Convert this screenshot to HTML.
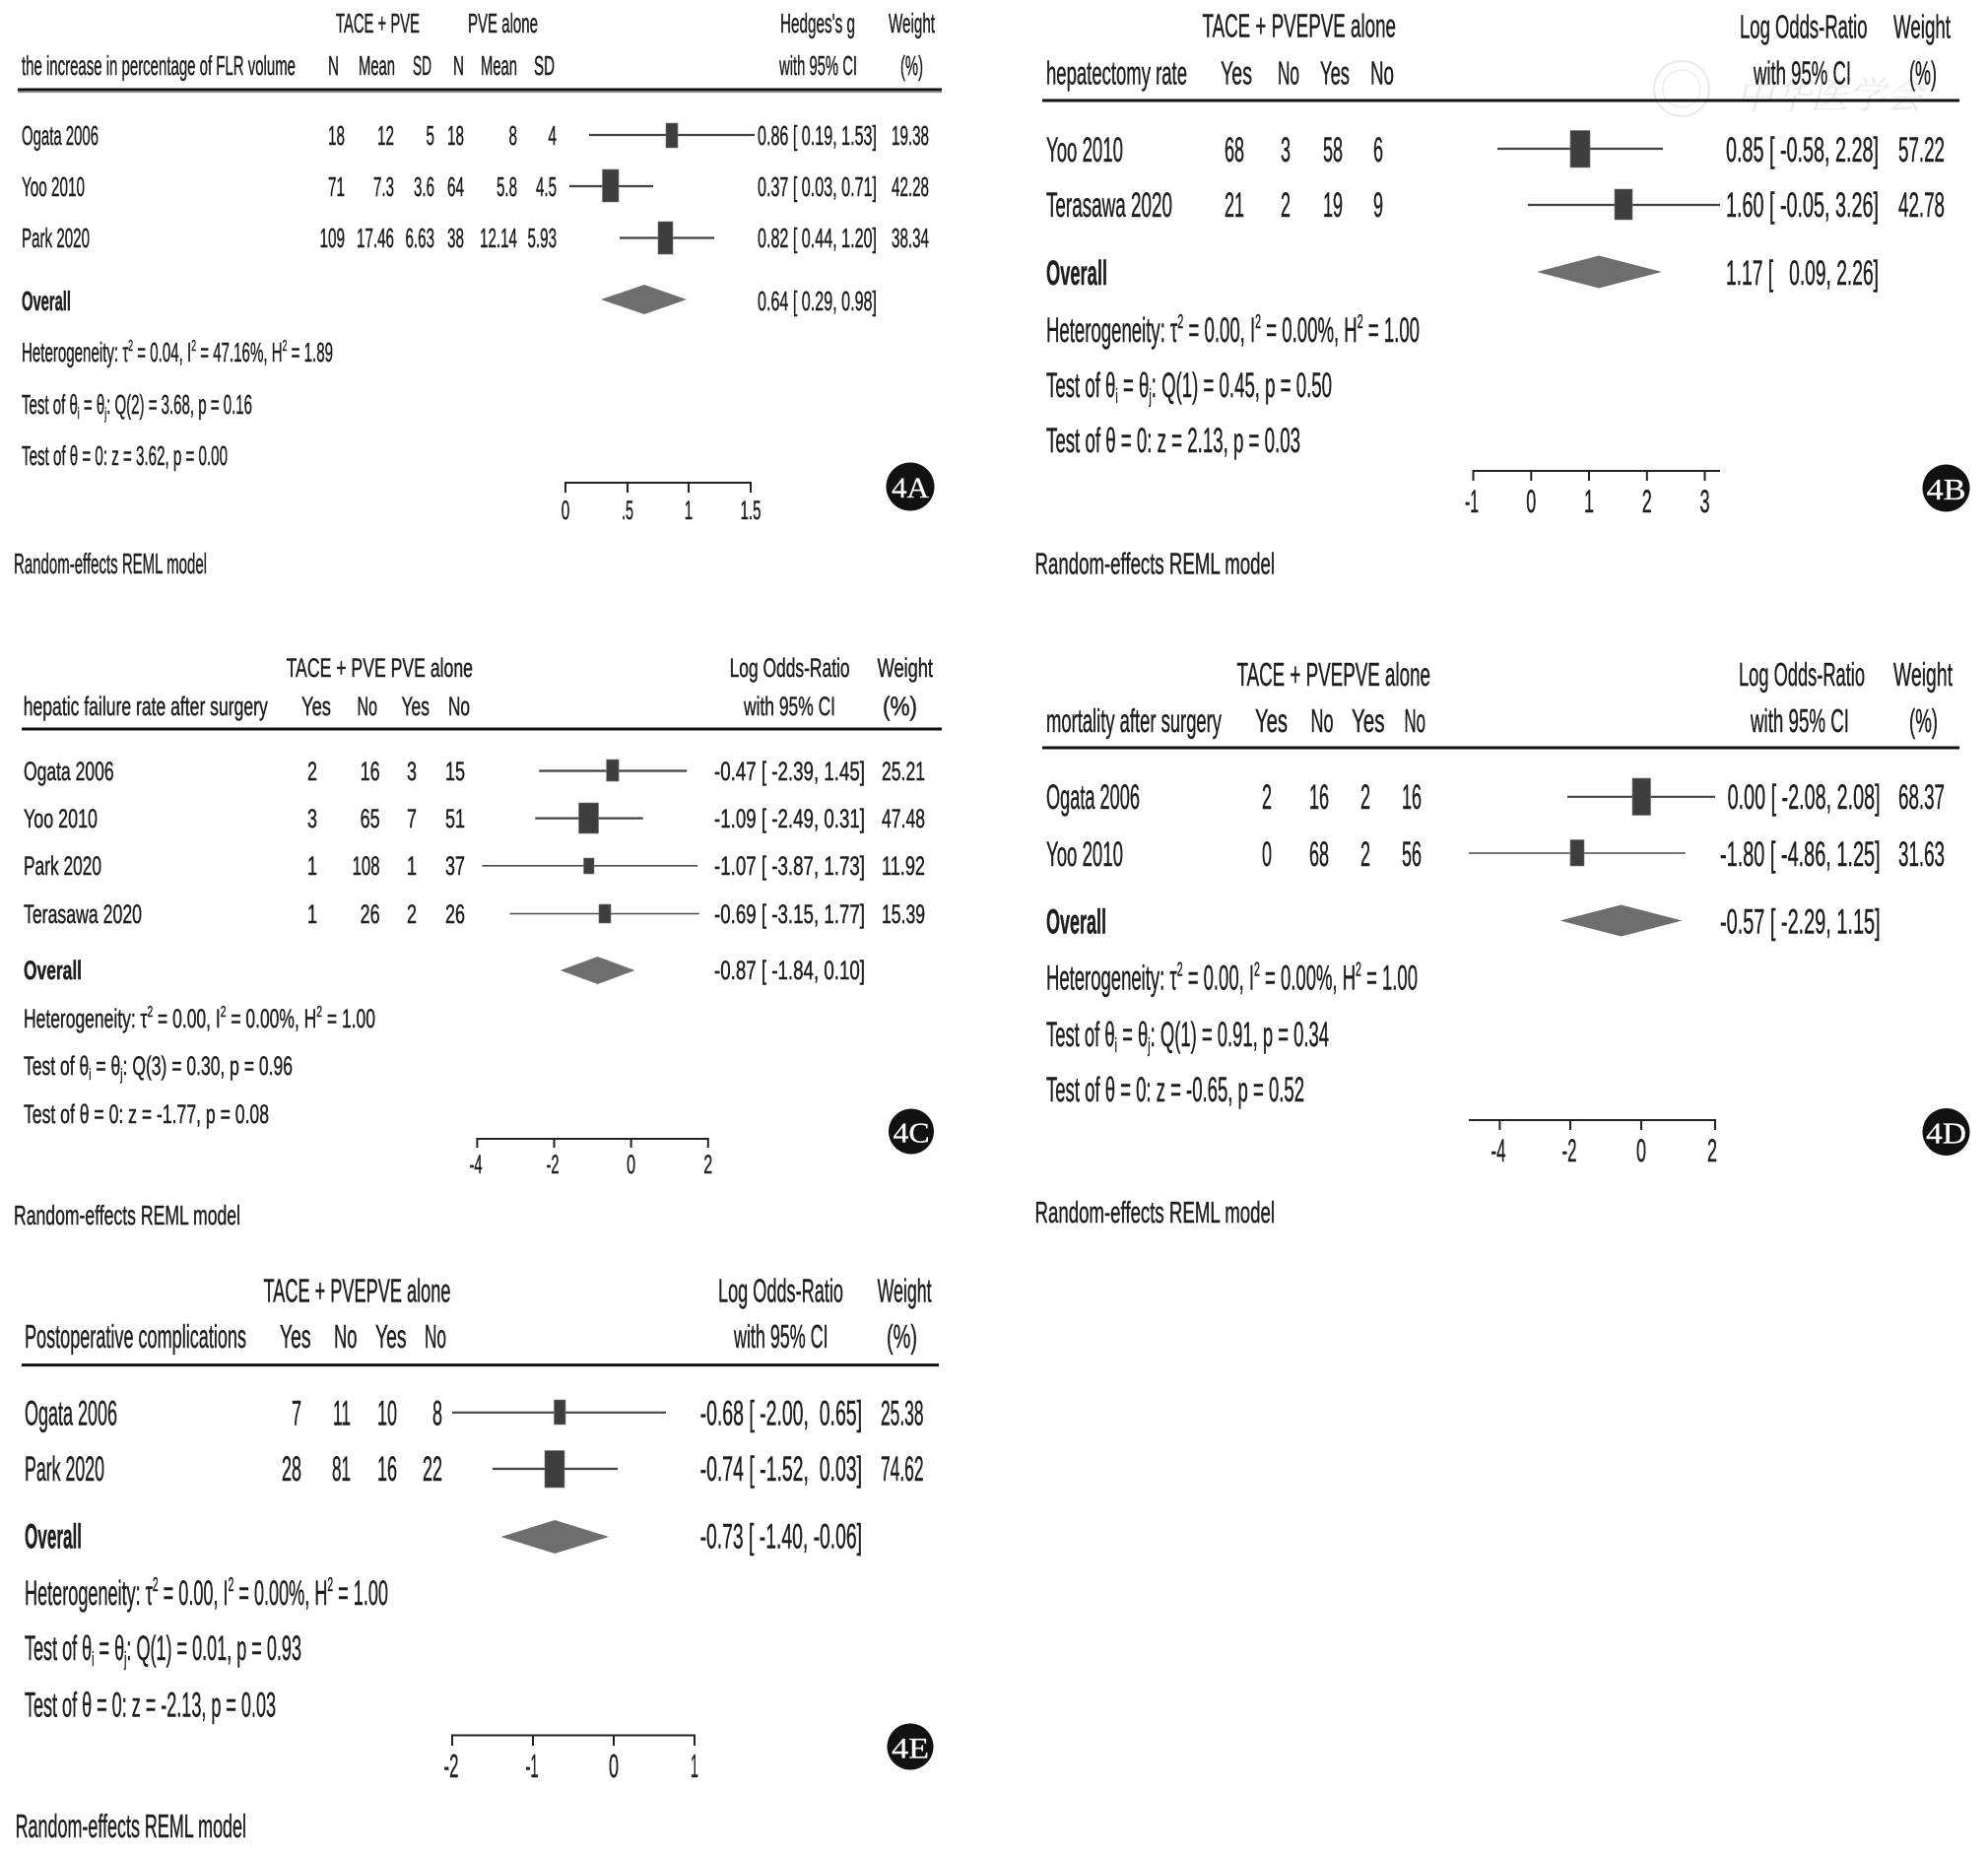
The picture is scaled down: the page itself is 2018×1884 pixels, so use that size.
<!DOCTYPE html>
<html><head><meta charset="utf-8"><style>
html,body{margin:0;padding:0;background:#fff;}
svg{display:block;}
text{font-family:"Liberation Sans","Noto Sans CJK SC",sans-serif;fill:#1e1e1e;stroke:#1e1e1e;stroke-width:0.5;white-space:pre;}
.b{font-weight:bold;}
.ci{stroke:#424242;stroke-width:2.2;}
.cil{stroke:#4a4a4a;stroke-width:1.6;}
.bx{fill:#3e3e3e;stroke:#777;stroke-width:0.6;}
.dm{fill:#6e6e6e;}
.ax{stroke:#222;stroke-width:2;fill:none;}
.hl{stroke:#111;stroke-width:3;}
.lab{font-family:"Liberation Serif",serif;fill:#fff;stroke:#fff;stroke-width:0.3;}
.wm{fill:#dedede;stroke:none;font-family:"Noto Serif CJK SC","Noto Sans CJK SC",serif;font-style:italic;}
</style></head><body>
<svg width="2018" height="1884" viewBox="0 0 2018 1884" xmlns="http://www.w3.org/2000/svg">
<rect width="2018" height="1884" fill="#fff"/>

<!-- ================= PANEL A ================= -->
<g font-size="28">
<text x="341" y="33" textLength="85" lengthAdjust="spacingAndGlyphs">TACE + PVE</text>
<text x="475" y="33" textLength="71" lengthAdjust="spacingAndGlyphs">PVE alone</text>
<text x="792" y="33" textLength="76" lengthAdjust="spacingAndGlyphs">Hedges's g</text>
<text x="902" y="33" textLength="47" lengthAdjust="spacingAndGlyphs">Weight</text>
<text x="22" y="76" textLength="278" lengthAdjust="spacingAndGlyphs">the increase in percentage of FLR volume</text>
<text x="333" y="76" textLength="11" lengthAdjust="spacingAndGlyphs">N</text>
<text x="364" y="76" textLength="37" lengthAdjust="spacingAndGlyphs">Mean</text>
<text x="419" y="76" textLength="19" lengthAdjust="spacingAndGlyphs">SD</text>
<text x="460" y="76" textLength="11" lengthAdjust="spacingAndGlyphs">N</text>
<text x="488" y="76" textLength="37" lengthAdjust="spacingAndGlyphs">Mean</text>
<text x="542" y="76" textLength="21" lengthAdjust="spacingAndGlyphs">SD</text>
<text x="791" y="76" textLength="79" lengthAdjust="spacingAndGlyphs">with 95% CI</text>
<text x="914" y="76" textLength="23" lengthAdjust="spacingAndGlyphs">(%)</text>
</g>
<line class="hl" x1="18" y1="91" x2="956" y2="91"/>
<line x1="18" y1="93.5" x2="956" y2="93.5" stroke="#888" stroke-width="1.2"/>
<g font-size="28">
<text x="22" y="147" textLength="78" lengthAdjust="spacingAndGlyphs">Ogata 2006</text>
<text x="22" y="199" textLength="64" lengthAdjust="spacingAndGlyphs">Yoo 2010</text>
<text x="22" y="251" textLength="69" lengthAdjust="spacingAndGlyphs">Park 2020</text>
<text class="b" x="22" y="315" textLength="50" lengthAdjust="spacingAndGlyphs">Overall</text>
<text x="22" y="367" textLength="316" lengthAdjust="spacingAndGlyphs">Heterogeneity: τ<tspan font-size="16" dy="-11">2</tspan><tspan dy="11"> = 0.04, I</tspan><tspan font-size="16" dy="-11">2</tspan><tspan dy="11"> = 47.16%, H</tspan><tspan font-size="16" dy="-11">2</tspan><tspan dy="11"> = 1.89</tspan></text>
<text x="22" y="420" textLength="234" lengthAdjust="spacingAndGlyphs">Test of θ<tspan font-size="16" dy="5">i</tspan><tspan dy="-5"> = θ</tspan><tspan font-size="16" dy="5">j</tspan><tspan dy="-5">: Q(2) = 3.68, p = 0.16</tspan></text>
<text x="22" y="472" textLength="209" lengthAdjust="spacingAndGlyphs">Test of θ = 0: z = 3.62, p = 0.00</text>
<g text-anchor="end">
<text x="350" y="147" textLength="17" lengthAdjust="spacingAndGlyphs">18</text>
<text x="400" y="147" textLength="17" lengthAdjust="spacingAndGlyphs">12</text>
<text x="441" y="147" textLength="8.5" lengthAdjust="spacingAndGlyphs">5</text>
<text x="471" y="147" textLength="17" lengthAdjust="spacingAndGlyphs">18</text>
<text x="525" y="147" textLength="8.5" lengthAdjust="spacingAndGlyphs">8</text>
<text x="565" y="147" textLength="8.5" lengthAdjust="spacingAndGlyphs">4</text>
<text x="350" y="199" textLength="17" lengthAdjust="spacingAndGlyphs">71</text>
<text x="400" y="199" textLength="21" lengthAdjust="spacingAndGlyphs">7.3</text>
<text x="441" y="199" textLength="21" lengthAdjust="spacingAndGlyphs">3.6</text>
<text x="471" y="199" textLength="17" lengthAdjust="spacingAndGlyphs">64</text>
<text x="525" y="199" textLength="21" lengthAdjust="spacingAndGlyphs">5.8</text>
<text x="565" y="199" textLength="21" lengthAdjust="spacingAndGlyphs">4.5</text>
<text x="350" y="251" textLength="25.5" lengthAdjust="spacingAndGlyphs">109</text>
<text x="400" y="251" textLength="38" lengthAdjust="spacingAndGlyphs">17.46</text>
<text x="441" y="251" textLength="29.5" lengthAdjust="spacingAndGlyphs">6.63</text>
<text x="471" y="251" textLength="17" lengthAdjust="spacingAndGlyphs">38</text>
<text x="525" y="251" textLength="38" lengthAdjust="spacingAndGlyphs">12.14</text>
<text x="565" y="251" textLength="29.5" lengthAdjust="spacingAndGlyphs">5.93</text>
</g>
<text x="769" y="147" textLength="121" lengthAdjust="spacingAndGlyphs">0.86 [ 0.19, 1.53]</text>
<text x="905" y="147" textLength="38" lengthAdjust="spacingAndGlyphs">19.38</text>
<text x="769" y="199" textLength="121" lengthAdjust="spacingAndGlyphs">0.37 [ 0.03, 0.71]</text>
<text x="905" y="199" textLength="38" lengthAdjust="spacingAndGlyphs">42.28</text>
<text x="769" y="251" textLength="121" lengthAdjust="spacingAndGlyphs">0.82 [ 0.44, 1.20]</text>
<text x="905" y="251" textLength="38" lengthAdjust="spacingAndGlyphs">38.34</text>
<text x="769" y="315" textLength="121" lengthAdjust="spacingAndGlyphs">0.64 [ 0.29, 0.98]</text>
</g>
<line class="ci" x1="598" y1="137" x2="766" y2="137"/>
<rect class="bx" x="676" y="125" width="12" height="25"/>
<line class="ci" x1="578" y1="189" x2="663" y2="189"/>
<rect class="bx" x="611.5" y="172" width="16.5" height="33"/>
<line class="ci" x1="629" y1="241.5" x2="725" y2="241.5"/>
<rect class="bx" x="668" y="225" width="15" height="33"/>
<polygon class="dm" points="610,304 654,289 697,304 654,319"/>
<path class="ax" d="M574,500 V490 H762 V500 M637,490 V500 M699,490 V500"/>
<g font-size="27" text-anchor="middle">
<text x="574" y="527" textLength="8.5" lengthAdjust="spacingAndGlyphs">0</text>
<text x="637" y="527" textLength="12" lengthAdjust="spacingAndGlyphs">.5</text>
<text x="699" y="527" textLength="8.5" lengthAdjust="spacingAndGlyphs">1</text>
<text x="762" y="527" textLength="21" lengthAdjust="spacingAndGlyphs">1.5</text>
</g>
<circle cx="924" cy="494" r="24.5" fill="#111"/>
<text class="lab" x="924" y="505" font-size="30" text-anchor="middle" textLength="38" lengthAdjust="spacingAndGlyphs">4A</text>
<text x="14" y="582" font-size="29" textLength="196" lengthAdjust="spacingAndGlyphs">Random-effects REML model</text>

<!-- ================= PANEL B ================= -->
<g opacity="0.6">
<circle cx="1707" cy="90" r="28" fill="none" stroke="#dcdcdc" stroke-width="2"/>
<circle cx="1707" cy="90" r="19" fill="none" stroke="#e2e2e2" stroke-width="1.5"/>
<text class="wm" x="1762" y="110" font-size="38" textLength="190" lengthAdjust="spacingAndGlyphs">中华医学会</text>
</g>
<g font-size="33">
<text x="1220.5" y="37.5" textLength="196.5" lengthAdjust="spacingAndGlyphs">TACE + PVEPVE alone</text>
<text x="1766" y="38.5" textLength="129.5" lengthAdjust="spacingAndGlyphs">Log Odds-Ratio</text>
<text x="1922" y="38.5" textLength="58" lengthAdjust="spacingAndGlyphs">Weight</text>
<text x="1062" y="85.5" textLength="143" lengthAdjust="spacingAndGlyphs">hepatectomy rate</text>
<text x="1239" y="85.5" textLength="32" lengthAdjust="spacingAndGlyphs">Yes</text>
<text x="1297" y="85.5" textLength="22" lengthAdjust="spacingAndGlyphs">No</text>
<text x="1340" y="85.5" textLength="30" lengthAdjust="spacingAndGlyphs">Yes</text>
<text x="1391" y="85.5" textLength="24" lengthAdjust="spacingAndGlyphs">No</text>
<text x="1780" y="85.5" textLength="99" lengthAdjust="spacingAndGlyphs">with 95% CI</text>
<text x="1938" y="85.5" textLength="28" lengthAdjust="spacingAndGlyphs">(%)</text>
</g>
<line class="hl" x1="1058" y1="102" x2="1989" y2="102"/>
<g font-size="35">
<text x="1062" y="164" textLength="78" lengthAdjust="spacingAndGlyphs">Yoo 2010</text>
<text x="1062" y="220" textLength="128" lengthAdjust="spacingAndGlyphs">Terasawa 2020</text>
<text class="b" x="1062" y="289" textLength="62" lengthAdjust="spacingAndGlyphs">Overall</text>
<text x="1062" y="347" textLength="379" lengthAdjust="spacingAndGlyphs">Heterogeneity: τ<tspan font-size="20" dy="-14">2</tspan><tspan dy="14"> = 0.00, I</tspan><tspan font-size="20" dy="-14">2</tspan><tspan dy="14"> = 0.00%, H</tspan><tspan font-size="20" dy="-14">2</tspan><tspan dy="14"> = 1.00</tspan></text>
<text x="1062" y="403" textLength="290" lengthAdjust="spacingAndGlyphs">Test of θ<tspan font-size="20" dy="6">i</tspan><tspan dy="-6"> = θ</tspan><tspan font-size="20" dy="6">j</tspan><tspan dy="-6">: Q(1) = 0.45, p = 0.50</tspan></text>
<text x="1062" y="459" textLength="258" lengthAdjust="spacingAndGlyphs">Test of θ = 0: z = 2.13, p = 0.03</text>
<g text-anchor="end">
<text x="1263" y="164" textLength="20" lengthAdjust="spacingAndGlyphs">68</text>
<text x="1310" y="164" textLength="10" lengthAdjust="spacingAndGlyphs">3</text>
<text x="1363" y="164" textLength="20" lengthAdjust="spacingAndGlyphs">58</text>
<text x="1404" y="164" textLength="10" lengthAdjust="spacingAndGlyphs">6</text>
<text x="1263" y="220" textLength="20" lengthAdjust="spacingAndGlyphs">21</text>
<text x="1310" y="220" textLength="10" lengthAdjust="spacingAndGlyphs">2</text>
<text x="1363" y="220" textLength="20" lengthAdjust="spacingAndGlyphs">19</text>
<text x="1404" y="220" textLength="10" lengthAdjust="spacingAndGlyphs">9</text>
</g>
<text x="1752" y="164" textLength="155" lengthAdjust="spacingAndGlyphs">0.85 [ -0.58, 2.28]</text>
<text x="1927" y="164" textLength="47" lengthAdjust="spacingAndGlyphs">57.22</text>
<text x="1752" y="220" textLength="155" lengthAdjust="spacingAndGlyphs">1.60 [ -0.05, 3.26]</text>
<text x="1927" y="220" textLength="47" lengthAdjust="spacingAndGlyphs">42.78</text>
<text x="1752" y="289" textLength="155" lengthAdjust="spacingAndGlyphs">1.17 [   0.09, 2.26]</text>
</g>
<line class="ci" x1="1520" y1="151" x2="1688" y2="151"/>
<rect class="bx" x="1594" y="132.5" width="20" height="37.5"/>
<line class="ci" x1="1551" y1="208" x2="1746" y2="208"/>
<rect class="bx" x="1639" y="192" width="18" height="31"/>
<polygon class="dm" points="1560,276 1623,259.5 1687,276 1623,292.5"/>
<path class="ax" d="M1495.5,488 V478 H1746 M1554.3,478 V488 M1613,478 V488 M1671.8,478 V488 M1730.5,478 V488"/>
<g font-size="32" text-anchor="middle">
<text x="1494" y="520" textLength="14" lengthAdjust="spacingAndGlyphs">-1</text>
<text x="1554.3" y="520" textLength="10" lengthAdjust="spacingAndGlyphs">0</text>
<text x="1613" y="520" textLength="10" lengthAdjust="spacingAndGlyphs">1</text>
<text x="1671.8" y="520" textLength="10" lengthAdjust="spacingAndGlyphs">2</text>
<text x="1730.5" y="520" textLength="10" lengthAdjust="spacingAndGlyphs">3</text>
</g>
<circle cx="1975.5" cy="495.5" r="24" fill="#111"/>
<text class="lab" x="1975.5" y="507" font-size="31" text-anchor="middle" textLength="40" lengthAdjust="spacingAndGlyphs">4B</text>
<text x="1050.5" y="582.5" font-size="31" textLength="243.5" lengthAdjust="spacingAndGlyphs">Random-effects REML model</text>

<!-- ================= PANEL C ================= -->
<g font-size="27">
<text x="290.6" y="687" textLength="189.4" lengthAdjust="spacingAndGlyphs">TACE + PVE PVE alone</text>
<text x="740.6" y="687" textLength="122" lengthAdjust="spacingAndGlyphs">Log Odds-Ratio</text>
<text x="890.6" y="687" textLength="56.4" lengthAdjust="spacingAndGlyphs">Weight</text>
<text x="23.75" y="726" textLength="248" lengthAdjust="spacingAndGlyphs">hepatic failure rate after surgery</text>
<text x="306" y="726" textLength="30" lengthAdjust="spacingAndGlyphs">Yes</text>
<text x="362.5" y="726" textLength="20.5" lengthAdjust="spacingAndGlyphs">No</text>
<text x="407.5" y="726" textLength="28.5" lengthAdjust="spacingAndGlyphs">Yes</text>
<text x="455" y="726" textLength="22" lengthAdjust="spacingAndGlyphs">No</text>
<text x="755" y="726" textLength="93" lengthAdjust="spacingAndGlyphs">with 95% CI</text>
<text x="896" y="726" textLength="35" lengthAdjust="spacingAndGlyphs">(%)</text>
</g>
<line class="hl" x1="22" y1="740" x2="956" y2="740"/>
<g font-size="27">
<text x="24" y="792" textLength="91.6" lengthAdjust="spacingAndGlyphs">Ogata 2006</text>
<text x="24" y="840" textLength="75" lengthAdjust="spacingAndGlyphs">Yoo 2010</text>
<text x="24" y="888" textLength="79" lengthAdjust="spacingAndGlyphs">Park 2020</text>
<text x="24" y="937" textLength="120" lengthAdjust="spacingAndGlyphs">Terasawa 2020</text>
<text class="b" x="24" y="994" textLength="59" lengthAdjust="spacingAndGlyphs">Overall</text>
<text x="24" y="1043" textLength="357" lengthAdjust="spacingAndGlyphs">Heterogeneity: τ<tspan font-size="16" dy="-11">2</tspan><tspan dy="11"> = 0.00, I</tspan><tspan font-size="16" dy="-11">2</tspan><tspan dy="11"> = 0.00%, H</tspan><tspan font-size="16" dy="-11">2</tspan><tspan dy="11"> = 1.00</tspan></text>
<text x="24" y="1091" textLength="273" lengthAdjust="spacingAndGlyphs">Test of θ<tspan font-size="16" dy="5">i</tspan><tspan dy="-5"> = θ</tspan><tspan font-size="16" dy="5">j</tspan><tspan dy="-5">: Q(3) = 0.30, p = 0.96</tspan></text>
<text x="24" y="1140" textLength="249" lengthAdjust="spacingAndGlyphs">Test of θ = 0: z = -1.77, p = 0.08</text>
<g text-anchor="end">
<text x="322" y="792" textLength="10" lengthAdjust="spacingAndGlyphs">2</text>
<text x="385.6" y="792" textLength="20" lengthAdjust="spacingAndGlyphs">16</text>
<text x="423" y="792" textLength="10" lengthAdjust="spacingAndGlyphs">3</text>
<text x="472" y="792" textLength="20" lengthAdjust="spacingAndGlyphs">15</text>
<text x="322" y="840" textLength="10" lengthAdjust="spacingAndGlyphs">3</text>
<text x="385.6" y="840" textLength="20" lengthAdjust="spacingAndGlyphs">65</text>
<text x="423" y="840" textLength="10" lengthAdjust="spacingAndGlyphs">7</text>
<text x="472" y="840" textLength="20" lengthAdjust="spacingAndGlyphs">51</text>
<text x="322" y="888" textLength="10" lengthAdjust="spacingAndGlyphs">1</text>
<text x="385.6" y="888" textLength="28" lengthAdjust="spacingAndGlyphs">108</text>
<text x="423" y="888" textLength="10" lengthAdjust="spacingAndGlyphs">1</text>
<text x="472" y="888" textLength="20" lengthAdjust="spacingAndGlyphs">37</text>
<text x="322" y="937" textLength="10" lengthAdjust="spacingAndGlyphs">1</text>
<text x="385.6" y="937" textLength="20" lengthAdjust="spacingAndGlyphs">26</text>
<text x="423" y="937" textLength="10" lengthAdjust="spacingAndGlyphs">2</text>
<text x="472" y="937" textLength="20" lengthAdjust="spacingAndGlyphs">26</text>
</g>
<text x="725" y="792" textLength="153" lengthAdjust="spacingAndGlyphs">-0.47 [ -2.39, 1.45]</text>
<text x="895" y="792" textLength="44" lengthAdjust="spacingAndGlyphs">25.21</text>
<text x="725" y="840" textLength="153" lengthAdjust="spacingAndGlyphs">-1.09 [ -2.49, 0.31]</text>
<text x="895" y="840" textLength="44" lengthAdjust="spacingAndGlyphs">47.48</text>
<text x="725" y="888" textLength="153" lengthAdjust="spacingAndGlyphs">-1.07 [ -3.87, 1.73]</text>
<text x="895" y="888" textLength="44" lengthAdjust="spacingAndGlyphs">11.92</text>
<text x="725" y="937" textLength="153" lengthAdjust="spacingAndGlyphs">-0.69 [ -3.15, 1.77]</text>
<text x="895" y="937" textLength="44" lengthAdjust="spacingAndGlyphs">15.39</text>
<text x="725" y="994" textLength="153" lengthAdjust="spacingAndGlyphs">-0.87 [ -1.84, 0.10]</text>
</g>
<line class="ci" x1="547.2" y1="782.5" x2="697.2" y2="782.5"/>
<rect class="bx" x="615.6" y="771" width="12.5" height="22"/>
<line class="ci" x1="543.3" y1="830.6" x2="652.7" y2="830.6"/>
<rect class="bx" x="587.5" y="815" width="20" height="31"/>
<line class="cil" x1="489.4" y1="878.8" x2="708" y2="878.8"/>
<rect class="bx" x="592.5" y="871" width="10.5" height="16"/>
<line class="cil" x1="517.6" y1="927.5" x2="709.7" y2="927.5"/>
<rect class="bx" x="608" y="918" width="12" height="19"/>
<polygon class="dm" points="568.7,985 606.6,971 644.5,985 606.6,999"/>
<path class="ax" d="M484.4,1165 V1156 H718.8 V1165 M562.5,1156 V1165 M640.6,1156 V1165"/>
<g font-size="27" text-anchor="middle">
<text x="483" y="1191" textLength="13" lengthAdjust="spacingAndGlyphs">-4</text>
<text x="561" y="1191" textLength="13" lengthAdjust="spacingAndGlyphs">-2</text>
<text x="640.6" y="1191" textLength="9" lengthAdjust="spacingAndGlyphs">0</text>
<text x="718.8" y="1191" textLength="9" lengthAdjust="spacingAndGlyphs">2</text>
</g>
<circle cx="925" cy="1148.5" r="23" fill="#111"/>
<text class="lab" x="925" y="1159.5" font-size="29" text-anchor="middle" textLength="37" lengthAdjust="spacingAndGlyphs">4C</text>
<text x="14" y="1243" font-size="28" textLength="230" lengthAdjust="spacingAndGlyphs">Random-effects REML model</text>

<!-- ================= PANEL D ================= -->
<g font-size="33">
<text x="1255.5" y="696" textLength="196.5" lengthAdjust="spacingAndGlyphs">TACE + PVEPVE alone</text>
<text x="1765" y="696" textLength="128" lengthAdjust="spacingAndGlyphs">Log Odds-Ratio</text>
<text x="1922" y="696" textLength="60" lengthAdjust="spacingAndGlyphs">Weight</text>
<text x="1062" y="743" textLength="178" lengthAdjust="spacingAndGlyphs">mortality after surgery</text>
<text x="1274" y="743" textLength="33" lengthAdjust="spacingAndGlyphs">Yes</text>
<text x="1330.5" y="743" textLength="23" lengthAdjust="spacingAndGlyphs">No</text>
<text x="1372" y="743" textLength="33.5" lengthAdjust="spacingAndGlyphs">Yes</text>
<text x="1425.5" y="743" textLength="21.5" lengthAdjust="spacingAndGlyphs">No</text>
<text x="1777" y="743" textLength="100" lengthAdjust="spacingAndGlyphs">with 95% CI</text>
<text x="1938" y="743" textLength="29" lengthAdjust="spacingAndGlyphs">(%)</text>
</g>
<line class="hl" x1="1058" y1="759" x2="1989" y2="759"/>
<g font-size="35">
<text x="1062" y="821" textLength="95" lengthAdjust="spacingAndGlyphs">Ogata 2006</text>
<text x="1062" y="879" textLength="78" lengthAdjust="spacingAndGlyphs">Yoo 2010</text>
<text class="b" x="1062" y="947.5" textLength="61" lengthAdjust="spacingAndGlyphs">Overall</text>
<text x="1062" y="1004.5" textLength="377" lengthAdjust="spacingAndGlyphs">Heterogeneity: τ<tspan font-size="20" dy="-14">2</tspan><tspan dy="14"> = 0.00, I</tspan><tspan font-size="20" dy="-14">2</tspan><tspan dy="14"> = 0.00%, H</tspan><tspan font-size="20" dy="-14">2</tspan><tspan dy="14"> = 1.00</tspan></text>
<text x="1062" y="1062" textLength="287" lengthAdjust="spacingAndGlyphs">Test of θ<tspan font-size="20" dy="6">i</tspan><tspan dy="-6"> = θ</tspan><tspan font-size="20" dy="6">j</tspan><tspan dy="-6">: Q(1) = 0.91, p = 0.34</tspan></text>
<text x="1062" y="1118" textLength="262" lengthAdjust="spacingAndGlyphs">Test of θ = 0: z = -0.65, p = 0.52</text>
<g text-anchor="end">
<text x="1291" y="821" textLength="10" lengthAdjust="spacingAndGlyphs">2</text>
<text x="1349" y="821" textLength="20" lengthAdjust="spacingAndGlyphs">16</text>
<text x="1391" y="821" textLength="10" lengthAdjust="spacingAndGlyphs">2</text>
<text x="1443" y="821" textLength="20" lengthAdjust="spacingAndGlyphs">16</text>
<text x="1291" y="879" textLength="10" lengthAdjust="spacingAndGlyphs">0</text>
<text x="1349" y="879" textLength="20" lengthAdjust="spacingAndGlyphs">68</text>
<text x="1391" y="879" textLength="10" lengthAdjust="spacingAndGlyphs">2</text>
<text x="1443" y="879" textLength="20" lengthAdjust="spacingAndGlyphs">56</text>
</g>
<text x="1753.6" y="821" textLength="155" lengthAdjust="spacingAndGlyphs">0.00 [ -2.08, 2.08]</text>
<text x="1927" y="821" textLength="47" lengthAdjust="spacingAndGlyphs">68.37</text>
<text x="1746" y="879" textLength="162.6" lengthAdjust="spacingAndGlyphs">-1.80 [ -4.86, 1.25]</text>
<text x="1927" y="879" textLength="47" lengthAdjust="spacingAndGlyphs">31.63</text>
<text x="1746" y="947.5" textLength="162.6" lengthAdjust="spacingAndGlyphs">-0.57 [ -2.29, 1.15]</text>
</g>
<line class="ci" x1="1591" y1="808.8" x2="1741" y2="808.8"/>
<rect class="bx" x="1657" y="790" width="18.5" height="37.5"/>
<line class="cil" x1="1491" y1="866" x2="1711" y2="866"/>
<rect class="bx" x="1594" y="852.5" width="14" height="26.5"/>
<polygon class="dm" points="1583.6,934.5 1645.5,918.5 1707.4,934.5 1645.5,950.5"/>
<path class="ax" d="M1491,1137 H1741 V1147 M1522.4,1137 V1147 M1594,1137 V1147 M1666,1137 V1147"/>
<g font-size="32" text-anchor="middle">
<text x="1521" y="1179" textLength="15" lengthAdjust="spacingAndGlyphs">-4</text>
<text x="1593" y="1179" textLength="15" lengthAdjust="spacingAndGlyphs">-2</text>
<text x="1666" y="1179" textLength="10" lengthAdjust="spacingAndGlyphs">0</text>
<text x="1738" y="1179" textLength="10" lengthAdjust="spacingAndGlyphs">2</text>
</g>
<circle cx="1975.5" cy="1149" r="24" fill="#111"/>
<text class="lab" x="1975.5" y="1160.5" font-size="31" text-anchor="middle" textLength="41" lengthAdjust="spacingAndGlyphs">4D</text>
<text x="1050.5" y="1241" font-size="31" textLength="243.5" lengthAdjust="spacingAndGlyphs">Random-effects REML model</text>

<!-- ================= PANEL E ================= -->
<g font-size="33">
<text x="267.5" y="1321.5" textLength="190" lengthAdjust="spacingAndGlyphs">TACE + PVEPVE alone</text>
<text x="729" y="1321.5" textLength="127" lengthAdjust="spacingAndGlyphs">Log Odds-Ratio</text>
<text x="890.6" y="1321.5" textLength="55" lengthAdjust="spacingAndGlyphs">Weight</text>
<text x="25" y="1368" textLength="225" lengthAdjust="spacingAndGlyphs">Postoperative complications</text>
<text x="284" y="1368" textLength="31.6" lengthAdjust="spacingAndGlyphs">Yes</text>
<text x="339" y="1368" textLength="23.5" lengthAdjust="spacingAndGlyphs">No</text>
<text x="381" y="1368" textLength="31.5" lengthAdjust="spacingAndGlyphs">Yes</text>
<text x="431" y="1368" textLength="22" lengthAdjust="spacingAndGlyphs">No</text>
<text x="745" y="1368" textLength="95.6" lengthAdjust="spacingAndGlyphs">with 95% CI</text>
<text x="900" y="1368" textLength="31" lengthAdjust="spacingAndGlyphs">(%)</text>
</g>
<line class="hl" x1="22" y1="1385.6" x2="953" y2="1385.6"/>
<g font-size="35">
<text x="25" y="1446.5" textLength="94" lengthAdjust="spacingAndGlyphs">Ogata 2006</text>
<text x="25" y="1503" textLength="81" lengthAdjust="spacingAndGlyphs">Park 2020</text>
<text class="b" x="25" y="1571.5" textLength="58" lengthAdjust="spacingAndGlyphs">Overall</text>
<text x="25" y="1629" textLength="369" lengthAdjust="spacingAndGlyphs">Heterogeneity: τ<tspan font-size="20" dy="-14">2</tspan><tspan dy="14"> = 0.00, I</tspan><tspan font-size="20" dy="-14">2</tspan><tspan dy="14"> = 0.00%, H</tspan><tspan font-size="20" dy="-14">2</tspan><tspan dy="14"> = 1.00</tspan></text>
<text x="25" y="1685" textLength="281" lengthAdjust="spacingAndGlyphs">Test of θ<tspan font-size="20" dy="6">i</tspan><tspan dy="-6"> = θ</tspan><tspan font-size="20" dy="6">j</tspan><tspan dy="-6">: Q(1) = 0.01, p = 0.93</tspan></text>
<text x="25" y="1742.7" textLength="255" lengthAdjust="spacingAndGlyphs">Test of θ = 0: z = -2.13, p = 0.03</text>
<g text-anchor="end">
<text x="306" y="1446.5" textLength="10" lengthAdjust="spacingAndGlyphs">7</text>
<text x="356" y="1446.5" textLength="18" lengthAdjust="spacingAndGlyphs">11</text>
<text x="403" y="1446.5" textLength="20" lengthAdjust="spacingAndGlyphs">10</text>
<text x="449" y="1446.5" textLength="10" lengthAdjust="spacingAndGlyphs">8</text>
<text x="306" y="1503" textLength="20" lengthAdjust="spacingAndGlyphs">28</text>
<text x="356" y="1503" textLength="19" lengthAdjust="spacingAndGlyphs">81</text>
<text x="403" y="1503" textLength="20" lengthAdjust="spacingAndGlyphs">16</text>
<text x="449" y="1503" textLength="20" lengthAdjust="spacingAndGlyphs">22</text>
</g>
<text x="710.6" y="1446.5" textLength="164.4" lengthAdjust="spacingAndGlyphs">-0.68 [ -2.00,  0.65]</text>
<text x="894" y="1446.5" textLength="43.5" lengthAdjust="spacingAndGlyphs">25.38</text>
<text x="710.6" y="1503" textLength="164.4" lengthAdjust="spacingAndGlyphs">-0.74 [ -1.52,  0.03]</text>
<text x="894" y="1503" textLength="43.5" lengthAdjust="spacingAndGlyphs">74.62</text>
<text x="710.6" y="1571.5" textLength="164.4" lengthAdjust="spacingAndGlyphs">-0.73 [ -1.40, -0.06]</text>
</g>
<line class="ci" x1="459" y1="1433.8" x2="676" y2="1433.8"/>
<rect class="bx" x="562.5" y="1421" width="11.5" height="25"/>
<line class="ci" x1="500" y1="1491" x2="627" y2="1491"/>
<rect class="bx" x="553" y="1472.5" width="20" height="37.5"/>
<polygon class="dm" points="508.5,1560 563.2,1543 618,1560 563.2,1577"/>
<path class="ax" d="M459,1772 V1761.5 H705 V1772 M541,1761.5 V1772 M623,1761.5 V1772"/>
<g font-size="33" text-anchor="middle">
<text x="458" y="1804" textLength="15" lengthAdjust="spacingAndGlyphs">-2</text>
<text x="540" y="1804" textLength="13" lengthAdjust="spacingAndGlyphs">-1</text>
<text x="623" y="1804" textLength="10" lengthAdjust="spacingAndGlyphs">0</text>
<text x="705" y="1804" textLength="8" lengthAdjust="spacingAndGlyphs">1</text>
</g>
<circle cx="924" cy="1773" r="23.5" fill="#111"/>
<text class="lab" x="924" y="1784.5" font-size="30" text-anchor="middle" textLength="38" lengthAdjust="spacingAndGlyphs">4E</text>
<text x="15.6" y="1865" font-size="33" textLength="234.4" lengthAdjust="spacingAndGlyphs">Random-effects REML model</text>
</svg>
</body></html>
